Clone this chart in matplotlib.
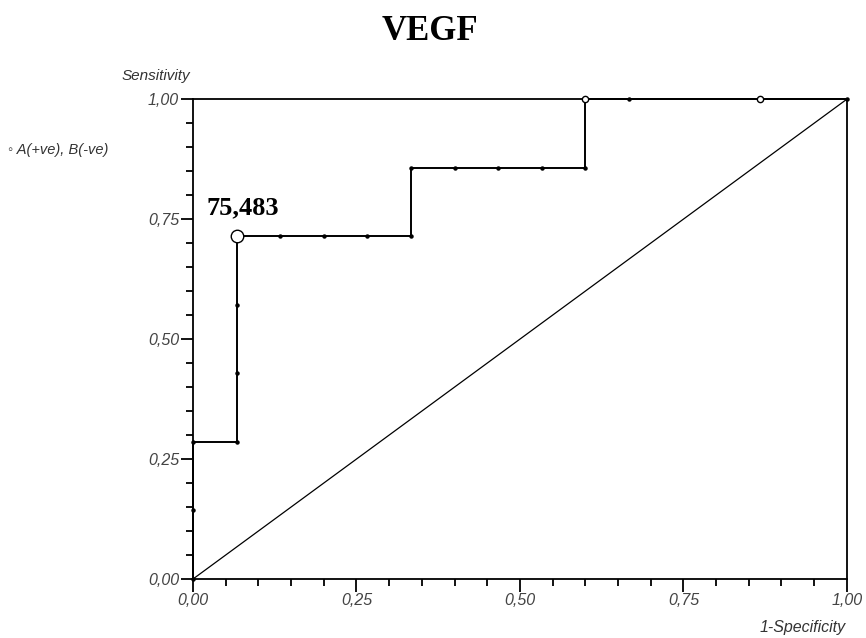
import matplotlib.pyplot as plt
import numpy as np
from matplotlib.ticker import MultipleLocator, FuncFormatter

# ROC points (1-specificity, sensitivity)
fpr = [0, 0, 0, 1/15, 1/15, 1/15, 1/15, 2/15, 3/15, 4/15, 5/15, 5/15,
       6/15, 7/15, 8/15, 9/15, 9/15, 10/15, 13/15, 1]
tpr = [0, 1/7, 2/7, 2/7, 3/7, 4/7, 5/7, 5/7, 5/7, 5/7, 5/7, 6/7,
       6/7, 6/7, 6/7, 6/7, 1, 1, 1, 1]
# points drawn as small open circles
open_pts = [(9/15, 1), (13/15, 1)]
cutoff = (1/15, 5/7)
cutoff_label = '75,483'

fig = plt.figure(figsize=(8.66, 6.38), dpi=100)
ax = fig.add_axes([0.2229, 0.0925, 0.755, 0.752])

ax.plot([0, 1], [0, 1], color='black', lw=0.9, zorder=1)
ax.plot(fpr, tpr, color='black', lw=1.4, marker='o', ms=2.2,
        mfc='black', mec='black', zorder=2, clip_on=False)
for x, y in open_pts:
    ax.plot(x, y, 'o', ms=4.5, mfc='white', mec='black', mew=1.0, zorder=3,
            clip_on=False)
ax.plot(*cutoff, 'o', ms=9, mfc='white', mec='black', mew=1.0, zorder=4)
ax.text(cutoff[0] - 0.046, cutoff[1] + 0.035, cutoff_label, family='Liberation Serif',
        fontsize=19, fontweight='bold', ha='left', va='bottom')

ax.set_xlim(0, 1)
ax.set_ylim(0, 1)
for side in ax.spines.values():
    side.set_linewidth(1.3)
    side.set_color('black')

fmt = FuncFormatter(lambda v, p: ('%.2f' % v).replace('.', ','))
ax.xaxis.set_major_locator(MultipleLocator(0.25))
ax.yaxis.set_major_locator(MultipleLocator(0.25))
ax.xaxis.set_minor_locator(MultipleLocator(0.05))
ax.yaxis.set_minor_locator(MultipleLocator(0.05))
ax.xaxis.set_major_formatter(fmt)
ax.yaxis.set_major_formatter(fmt)
ax.tick_params(which='major', length=9, width=1.3, direction='out')
ax.tick_params(which='minor', length=5, width=1.3, direction='out')
ax.tick_params(top=False, right=False, labelsize=11.5, labelcolor='#444444', pad=1)
for lab in ax.get_xticklabels() + ax.get_yticklabels():
    lab.set_family('Liberation Sans')
    lab.set_style('italic')

fig.text(0.497, 0.95, 'VEGF', family='Liberation Serif', fontsize=25,
         fontweight='bold', ha='center', va='center')
fig.text(0.180, 0.881, 'Sensitivity', family='Liberation Sans', style='italic',
         fontsize=11, color='#333333', ha='center', va='center')
fig.text(0.927, 0.016, '1-Specificity', family='Liberation Sans', style='italic',
         fontsize=11.5, color='#333333', ha='center', va='center')
fig.text(0.009, 0.765, '\u25e6 A(+ve), B(-ve)', family=['Liberation Sans', 'DejaVu Sans'],
         style='italic', fontsize=10.5, color='#333333', ha='left', va='center')

fig.savefig('out.png', dpi=100)
